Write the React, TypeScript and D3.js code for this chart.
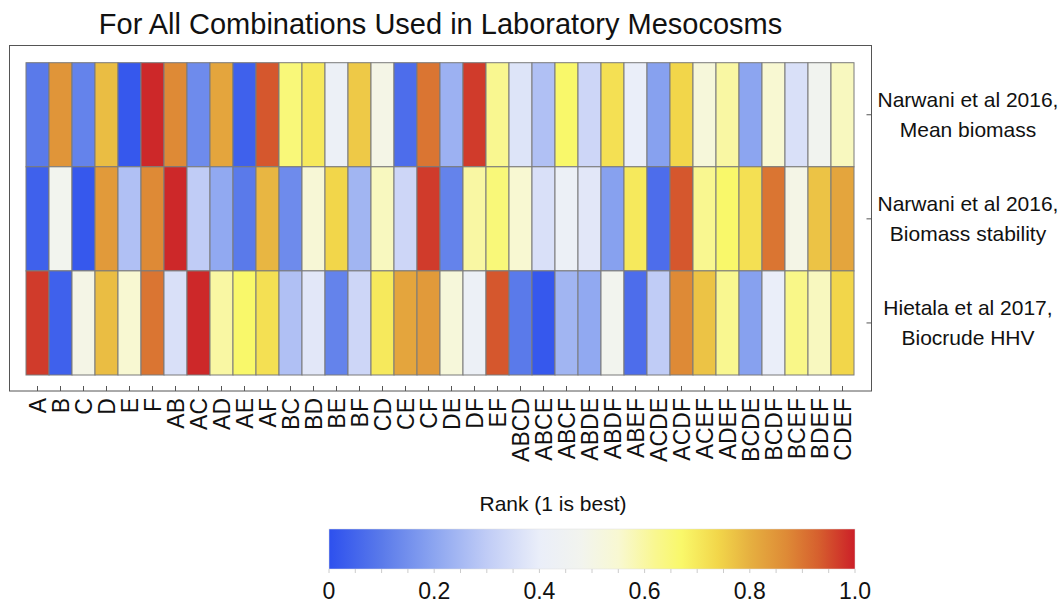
import * as d3 from 'd3';

// column labels (species combinations)
const combos = [
  "A", "B", "C", "D", "E", "F",
  "AB", "AC", "AD", "AE", "AF", "BC", "BD", "BE", "BF", "CD", "CE", "CF", "DE", "DF", "EF",
  "ABCD", "ABCE", "ABCF", "ABDE", "ABDF", "ABEF", "ACDE", "ACDF", "ACEF", "ADEF",
  "BCDE", "BCDF", "BCEF", "BDEF", "CDEF",
];

const rowLabels = [
  ["Narwani et al 2016,", "Mean biomass"],
  ["Narwani et al 2016,", "Biomass stability"],
  ["Hietala et al 2017,", "Biocrude HHV"],
];

// rank values, one array per row
const meanBiomass = [
  0.10, 0.85, 0.12, 0.78, 0.02, 0.99,
  0.87, 0.14, 0.82, 0.04, 0.94, 0.65, 0.70, 0.42, 0.76, 0.50, 0.07, 0.90, 0.23, 0.97, 0.62,
  0.37, 0.27, 0.67, 0.33, 0.72, 0.40, 0.19, 0.74, 0.53, 0.60,
  0.20, 0.55, 0.36, 0.47, 0.57,
];
const biomassStability = [
  0.04, 0.48, 0.02, 0.84, 0.27, 0.87,
  0.99, 0.30, 0.21, 0.10, 0.79, 0.14, 0.54, 0.74, 0.24, 0.57, 0.33, 0.97, 0.12, 0.60, 0.65,
  0.55, 0.36, 0.42, 0.38, 0.19, 0.70, 0.07, 0.94, 0.62, 0.67,
  0.72, 0.90, 0.50, 0.77, 0.82,
];
const biocrudeHHV = [
  0.97, 0.04, 0.50, 0.78, 0.55, 0.90,
  0.36, 0.99, 0.60, 0.67, 0.72, 0.27, 0.38, 0.12, 0.33, 0.70, 0.82, 0.84, 0.53, 0.42, 0.94,
  0.10, 0.02, 0.24, 0.21, 0.48, 0.07, 0.30, 0.87, 0.77, 0.62,
  0.19, 0.40, 0.63, 0.57, 0.74,
];
const rows = [meanBiomass, biomassStability, biocrudeHHV];

const colorTicks = [0, 0.2, 0.4, 0.6, 0.8, 1.0];
const colorTickLabels = ["0", "0.2", "0.4", "0.6", "0.8", "1.0"];

// temperature-like colour map
const stopPos = [0, 0.1, 0.2, 0.3, 0.4, 0.48, 0.55, 0.62, 0.67, 0.74, 0.8, 0.87, 0.93, 1.0];
const stopCol = [
  "#2d50ee", "#5a7aea", "#8ca5f0", "#c0ccf6", "#eaeef9", "#f2f4ee", "#f8f8d2",
  "#f9f790", "#f9f86a", "#f2d64a", "#e6b040", "#de8a36", "#d6602e", "#cc1f28",
];

const FONT = "'Liberation Sans', Arial, Helvetica, sans-serif";

export default function App() {
  const width = 1064;
  const height = 603;

  const x = d3.scaleBand<string>().domain(combos).range([26, 854]).paddingInner(0);
  const y = d3.scaleBand<number>().domain(d3.range(rows.length)).range([62.7, 375]);
  const color = d3.scaleLinear<string>().domain(stopPos).range(stopCol).interpolate(d3.interpolateRgb);

  const frame = { left: 9.5, top: 45.5, right: 871.5, bottom: 391 };

  const cb = d3.scaleLinear().domain([0, 1]).range([329, 855]);
  const cbTop = 529;
  const cbH = 40;
  const minorTicks = d3.range(0, 1.0001, 0.05);

  return (
    <svg width={width} height={height} style={{ position: 'absolute', left: 0, top: 0, background: '#fff' }} fontFamily={FONT}>
      <defs>
        <linearGradient id="rankGrad" x1="0" x2="1" y1="0" y2="0">
          {stopPos.map((p, i) => (
            <stop key={i} offset={`${p * 100}%`} stopColor={stopCol[i]} />
          ))}
        </linearGradient>
      </defs>

      <text x={(frame.left + frame.right) / 2} y={34} textAnchor="middle" fontSize={29} fill="#111">
        For All Combinations Used in Laboratory Mesocosms
      </text>

      {/* frame */}
      <rect x={frame.left} y={frame.top} width={frame.right - frame.left} height={frame.bottom - frame.top}
        fill="none" stroke="#555" strokeWidth={1} />

      {/* cells */}
      {rows.map((vals, r) =>
        vals.map((v, c) => (
          <rect key={`${r}-${c}`} x={x(combos[c])} y={y(r)} width={x.bandwidth()} height={y.bandwidth()}
            fill={color(v)} stroke="#7a7a7a" strokeWidth={1} />
        ))
      )}

      {/* bottom ticks + labels */}
      {combos.map(name => {
        const cx = (x(name) as number) + x.bandwidth() / 2;
        return (
          <g key={name}>
            <line x1={cx} x2={cx} y1={frame.bottom} y2={frame.bottom - 5} stroke="#555" />
            <text transform={`translate(${cx + 8},398) rotate(-90)`} textAnchor="end" fontSize={23} fill="#111">
              {name}
            </text>
          </g>
        );
      })}

      {/* right ticks + labels */}
      {rowLabels.map((lines, r) => {
        const cy = (y(r) as number) + y.bandwidth() / 2;
        return (
          <g key={r}>
            <line x1={frame.right} x2={frame.right - 5} y1={cy} y2={cy} stroke="#555" />
            <text x={968} y={cy - 8} textAnchor="middle" fontSize={21} fill="#111">
              <tspan x={968}>{lines[0]}</tspan>
              <tspan x={968} dy={30}>{lines[1]}</tspan>
            </text>
          </g>
        );
      })}

      {/* colour bar */}
      <text x={553} y={511} textAnchor="middle" fontSize={21} fill="#111">Rank (1 is best)</text>
      <rect x={cb(0)} y={cbTop} width={cb(1) - cb(0)} height={cbH} fill="url(#rankGrad)" stroke="#ddd" strokeWidth={0.5} />
      {minorTicks.map((t, i) => (
        <line key={i} x1={cb(t)} x2={cb(t)} y1={cbTop + cbH} y2={cbTop + cbH + 4} stroke="#ccc" />
      ))}
      {colorTicks.map((t, i) => (
        <text key={t} x={cb(t)} y={599} textAnchor="middle" fontSize={23} fill="#111">{colorTickLabels[i]}</text>
      ))}
    </svg>
  );
}
